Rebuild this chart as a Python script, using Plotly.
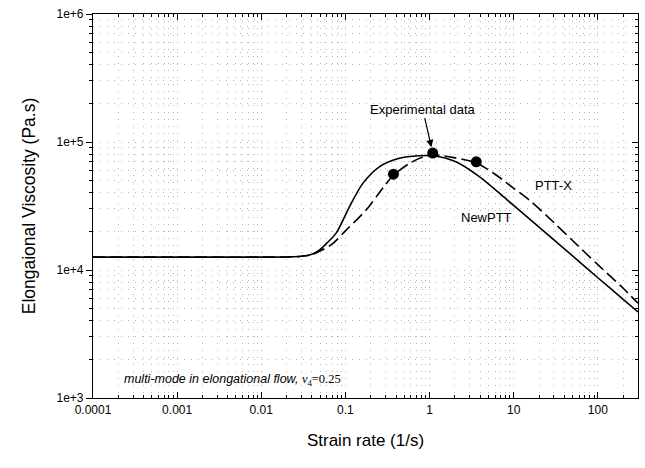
import numpy as np
import plotly.graph_objects as go

# ---- data ----
rate_newptt = [1e-4, 1e-3, 1e-2, 0.02, 0.03, 0.04, 0.049, 0.06, 0.0776, 0.112, 0.161, 0.253,
               0.438, 0.757, 1.1, 2.05, 3.9, 8.4, 20, 50, 100, 200, 300]
visc_newptt = [1.26e4, 1.26e4, 1.26e4, 1.265e4, 1.28e4, 1.33e4, 1.43e4, 1.62e4, 1.94e4, 3.13e4,
               4.75e4, 6.4e4, 7.46e4, 7.8e4, 7.8e4, 7.0e4, 5.36e4, 3.52e4, 2.16e4, 1.29e4,
               8.7e3, 5.9e3, 4.7e3]

rate_pttx = [1e-4, 1e-3, 1e-2, 0.02, 0.03, 0.04, 0.049, 0.07, 0.102, 0.176, 0.277, 0.372,
             0.575, 0.82, 1.2, 2.05, 3.6, 6, 10, 15.3, 30, 50, 100, 200, 300]
visc_pttx = [1.26e4, 1.26e4, 1.26e4, 1.265e4, 1.28e4, 1.32e4, 1.4e4, 1.6e4, 2.05e4, 2.94e4,
             4.35e4, 5.5e4, 6.8e4, 7.6e4, 7.9e4, 7.5e4, 6.86e4, 5.6e4, 4.35e4, 3.52e4,
             2.35e4, 1.7e4, 1.1e4, 7.2e3, 5.5e3]

rate_exp = [0.372, 1.09, 3.59]
visc_exp = [5.6e4, 8.2e4, 7.0e4]

x_tickvals = [1e-4, 1e-3, 1e-2, 1e-1, 1, 10, 100]
x_ticktext = ["0.0001", "0.001", "0.01", "0.1", "1", "10", "100"]
y_tickvals = [1e3, 1e4, 1e5, 1e6]
y_ticktext = ["1e+3", "1e+4", "1e+5", "1e+6"]

FONT = "Liberation Sans, Arial, sans-serif"
GRID = "#b4b4b4"
GDASH = "1px,6px"

fig = go.Figure()
fig.add_trace(go.Scatter(x=rate_newptt, y=visc_newptt, mode="lines", name="NewPTT",
                         line=dict(color="black", width=1.6, shape="spline", smoothing=0.8)))
fig.add_trace(go.Scatter(x=rate_pttx, y=visc_pttx, mode="lines", name="PTT-X",
                         line=dict(color="black", width=1.6, dash="12px,5px",
                                   shape="spline", smoothing=0.8)))
fig.add_trace(go.Scatter(x=rate_exp, y=visc_exp, mode="markers", name="Experimental data",
                         marker=dict(color="black", size=11)))
# dummy trace for right-side overlay axis
fig.add_trace(go.Scatter(x=[1e-4], y=[1e3], yaxis="y2", mode="markers",
                         marker=dict(opacity=0), showlegend=False, hoverinfo="skip"))

xr = [np.log10(1e-4), np.log10(300)]
yr = [3, 6]

fig.update_layout(
    width=645, height=468,
    margin=dict(l=93, r=7, t=14, b=70),
    paper_bgcolor="white", plot_bgcolor="white",
    showlegend=False,
    font=dict(family=FONT, color="black", size=12),
    xaxis=dict(type="log", range=xr, tickvals=x_tickvals, ticktext=x_ticktext,
               ticks="inside", ticklen=6, tickcolor="black", mirror="ticks",
               showline=True, linecolor="black", linewidth=1.2,
               showgrid=True, gridcolor=GRID, griddash=GDASH, gridwidth=1,
               tickfont=dict(size=12, family=FONT),
               title=dict(text="Strain rate (1/s)", font=dict(size=17, family=FONT), standoff=18),
               minor=dict(ticks="inside", ticklen=3, tickcolor="black", dtick="D1",
                          showgrid=True, gridcolor=GRID, griddash=GDASH, gridwidth=1),
               zeroline=False),
    yaxis=dict(type="log", range=yr, tickvals=y_tickvals, ticktext=y_ticktext,
               ticks="outside", ticklen=6, tickcolor="black", mirror=True,
               showline=True, linecolor="black", linewidth=1.2,
               showgrid=True, gridcolor=GRID, griddash=GDASH, gridwidth=1,
               tickfont=dict(size=12, family=FONT),
               title=dict(text="Elongaional Viscosity (Pa.s)", font=dict(size=17.5, family=FONT),
                          standoff=16),
               minor=dict(ticks="outside", ticklen=3, tickcolor="black", dtick="D1",
                          showgrid=True, gridcolor=GRID, griddash=GDASH, gridwidth=1),
               zeroline=False),
    yaxis2=dict(type="log", range=yr, overlaying="y", side="right", tickvals=y_tickvals,
                showticklabels=False, ticks="inside", ticklen=6, tickcolor="black",
                showline=False, showgrid=False, zeroline=False,
                minor=dict(ticks="inside", ticklen=3, tickcolor="black", dtick="D1",
                           showgrid=False)),
)

# annotations
fig.add_annotation(x=np.log10(1.09), y=np.log10(8.2e4), xref="x", yref="y",
                   text="Experimental data", showarrow=True, arrowhead=2, arrowsize=1.2,
                   arrowwidth=1.2, arrowcolor="black", ax=-10, ay=-44, standoff=6,
                   font=dict(size=13, family=FONT))
fig.add_annotation(x=np.log10(30), y=np.log10(4.6e4), xref="x", yref="y",
                   text="PTT-X", showarrow=False, font=dict(size=13, family=FONT))
fig.add_annotation(x=np.log10(4.72), y=np.log10(2.55e4), xref="x", yref="y",
                   text="NewPTT", showarrow=False, font=dict(size=13, family=FONT))
fig.add_annotation(x=np.log10(2.2e-4), y=np.log10(1.155e3), xref="x", yref="y",
                   xanchor="left", yanchor="bottom", showarrow=False,
                   text="<i>multi-mode in elongational flow, </i>"
                        "<span style=\"font-family:'Liberation Serif', 'Times New Roman', serif\">"
                        "<i>ν</i><sub>4</sub>=0.25</span>",
                   font=dict(size=12.5, family=FONT))

fig.write_html("out.html")
